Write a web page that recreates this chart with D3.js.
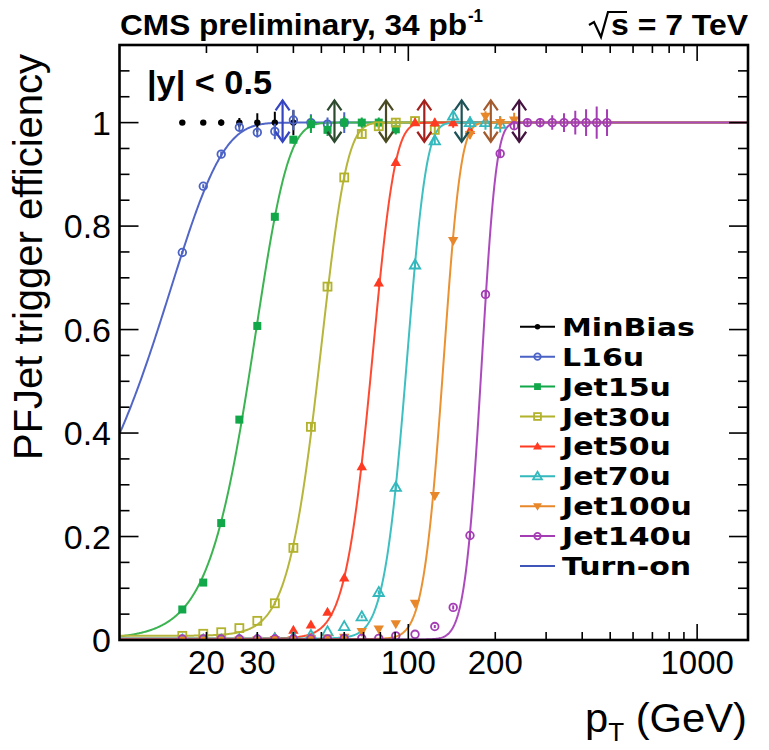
<!DOCTYPE html>
<html>
<head>
<meta charset="utf-8">
<script src="https://cdn.jsdelivr.net/npm/d3@7"></script>
<style>
  body { margin: 0; background: #fff; }
  svg { display: block; }
</style>
</head>
<body>
<svg id="chart" width="769" height="750"></svg>
<script>
// ---- data: trigger efficiency per jet pT bin, [pT (GeV), efficiency, stat. error]
const seriesNames = ["MinBias", "L16u", "Jet15u", "Jet30u", "Jet50u", "Jet70u", "Jet100u", "Jet140u"];

const effMinBias = [[16.5,1.0,0],[19.5,1.0,0.002],[22.5,1.0,0.006],[26,1.0,0.009],[30,1.0,0.018],[34.5,1.0,0.021],[40,1.0,0.024]];
const effL16u = [[16.5,0.749,0.003],[19.5,0.877,0.004],[22.5,0.939,0.005],[26,0.991,0.008],[30,0.981,0.01],[34.5,0.983,0.015],[40,1.005,0.02],[46,1.0,0.016],[52.5,0.997,0.013],[60,1.0,0.02]];
const effJet15u = [[16.5,0.059,0.004],[19.5,0.111,0.005],[22.5,0.226,0.006],[26,0.426,0.007],[30,0.607,0.008],[34.5,0.818,0.008],[40,0.967,0.008],[46,0.997,0.017],[52.5,0.986,0.012],[60,1.0,0.012],[69,1.0,0.01],[79,1.0,0.01],[90.5,0.987,0.01]];
const effJet30u = [[16.5,0.008,0],[19.5,0.012,0],[22.5,0.015,0],[26,0.023,0],[30,0.037,0],[34.5,0.071,0.004],[40,0.178,0.006],[46,0.412,0.008],[52.5,0.683,0.008],[60,0.894,0.007],[69,0.978,0.006],[79,0.993,0.008],[90.5,1.0,0.008],[105.5,1.003,0.008],[123.5,0.986,0.01]];
const effJet50u = [[16.5,0.001,0],[19.5,0.001,0],[22.5,0.001,0],[26,0.002,0],[30,0.003,0],[34.5,0.006,0],[40,0.019,0],[46,0.029,0],[52.5,0.054,0.003],[60,0.12,0.005],[69,0.335,0.007],[79,0.69,0.008],[90.5,0.923,0.007],[105.5,1.0,0.006],[123.5,1.0,0.008],[143,1.0,0.01],[163.5,0.985,0.012]];
const effJet70u = [[16.5,0.0,0],[19.5,0.0,0],[22.5,0.0,0],[26,0.001,0],[30,0.001,0],[34.5,0.002,0],[40,0.005,0],[46,0.009,0],[52.5,0.016,0],[60,0.026,0],[69,0.045,0.003],[79,0.092,0.004],[90.5,0.295,0.007],[105.5,0.725,0.008],[123.5,0.965,0.008],[143,1.013,0.01],[163.5,1.0,0.012],[185,1.0,0.014],[208,0.997,0.016]];
const effJet100u = [[16.5,0.0,0],[19.5,0.0,0],[22.5,0.0,0],[26,0.0,0],[30,0.0,0],[34.5,0.001,0],[40,0.001,0],[46,0.002,0],[52.5,0.003,0],[60,0.005,0],[69,0.016,0],[79,0.021,0],[90.5,0.031,0],[105.5,0.071,0.004],[123.5,0.279,0.007],[143,0.772,0.008],[163.5,0.977,0.008],[185,1.012,0.01],[208,1.0,0.012],[232.5,1.005,0.014]];
const effJet140u = [[16.5,0.002,0],[19.5,0.002,0],[22.5,0.002,0],[26,0.002,0],[30,0.002,0],[34.5,0.002,0],[40,0.002,0],[46,0.002,0],[52.5,0.002,0],[60,0.003,0],[69,0.003,0],[79,0.003,0],[90.5,0.008,0],[105.5,0.011,0],[123.5,0.026,0.003],[143,0.063,0.004],[163.5,0.202,0.006],[185,0.668,0.008],[208,0.94,0.008],[232.5,0.994,0.008],[258.5,1.0,0.008],[286,1.0,0.009],[315,1.0,0.014],[346,1.0,0.018],[378.5,1.0,0.023],[412.5,1.0,0.026],[449,1.0,0.031],[487.5,1.0,0.026]];

const seriesData = [effMinBias, effL16u, effJet15u, effJet30u, effJet50u, effJet70u, effJet100u, effJet140u];

// turn-on fit parameters, eff = c + (1-c) * 0.5 * (1 + erf((pT - mean) / width)), one per trigger L16u..Jet140u
const fitMean  = [11.8, 27.9, 48.5, 73.8, 97.6, 131, 178];
const fitWidth = [9.9, 10.3, 13.0, 16.5, 18.6, 22, 25];
const fitFloor = [0, 0, 0.008, 0.003, 0.003, 0.002, 0.001];

// pT where each trigger becomes fully efficient
const thresholdPt = [36.7, 55.5, 83.7, 113.6, 153, 193, 242];

const xTickLabels = [20, 30, 100, 200, 1000];
const yTickLabels = [0, 0.2, 0.4, 0.6, 0.8, 1];

// ---- styles
const markerColors = ["#000000", "#4a62c6", "#12a84a", "#b2b22c", "#ff3a22", "#33b8bd", "#e8872a", "#a43db4"];
const curveColors  = ["#5166c6", "#3cb452", "#b6b63c", "#ff4a32", "#3ebfc1", "#ea9132", "#ac4abd"];
const arrowColors  = ["#3545c2", "#2c4a2e", "#4a4a22", "#a3201c", "#1d5257", "#a35a2d", "#44123f"];
const markerShapes = ["dot", "ocircle", "fsquare", "osquare", "ftri", "otri", "fdtri", "ocircle"];

const svg = d3.select("#chart");
const L = 119.5, R = 748, T = 45, B = 640;

const x = d3.scaleLog().domain([10, 1500]).range([L, R]);
const y = d3.scaleLinear().domain([0, 1.15]).range([B, T]);

function erf(v) {
  const s = Math.sign(v); v = Math.abs(v);
  const t = 1 / (1 + 0.3275911 * v);
  const p = 1 - (((((1.061405429 * t - 1.453152027) * t) + 1.421413741) * t - 0.284496736) * t + 0.254829592) * t * Math.exp(-v * v);
  return s * p;
}

svg.append("defs").append("clipPath").attr("id", "plotclip")
  .append("rect").attr("x", L).attr("y", T).attr("width", R - L).attr("height", B - T);

// ---- fitted turn-on curves
const ptGrid = d3.range(0, 801).map(i => 10 * Math.pow(150, i / 800));
const curveLine = d3.line().x(d => x(d[0])).y(d => y(d[1]));
const curveG = svg.append("g").attr("clip-path", "url(#plotclip)");
fitMean.forEach((m, i) => {
  const c = fitFloor[i];
  const pts = ptGrid.map(p => [p, c + (1 - c) * 0.5 * (1 + erf((p - m) / fitWidth[i]))]);
  curveG.append("path").attr("d", curveLine(pts))
    .attr("fill", "none").attr("stroke", curveColors[i]).attr("stroke-width", 2);
});

// ---- markers
function drawMarker(g, shape, color, cx, cy, scale) {
  const k = scale || 1;
  if (shape === "dot") {
    g.append("circle").attr("cx", cx).attr("cy", cy).attr("r", 3.2 * k).attr("fill", color);
  } else if (shape === "ocircle") {
    g.append("circle").attr("cx", cx).attr("cy", cy).attr("r", 3.8 * k)
      .attr("fill", "none").attr("stroke", color).attr("stroke-width", 1.8);
  } else if (shape === "fsquare" || shape === "osquare") {
    const s = 8 * k;
    const r = g.append("rect").attr("x", cx - s / 2).attr("y", cy - s / 2).attr("width", s).attr("height", s);
    if (shape === "fsquare") r.attr("fill", color);
    else r.attr("fill", "none").attr("stroke", color).attr("stroke-width", 1.8);
  } else {
    const h = 9 * k, w = 5.2 * k;
    const up = shape !== "fdtri";
    const d = up
      ? `M${cx},${cy - h * 0.6}L${cx + w},${cy + h * 0.4}L${cx - w},${cy + h * 0.4}Z`
      : `M${cx},${cy + h * 0.6}L${cx + w},${cy - h * 0.4}L${cx - w},${cy - h * 0.4}Z`;
    const p = g.append("path").attr("d", d);
    if (shape === "otri") p.attr("fill", "none").attr("stroke", color).attr("stroke-width", 1.8);
    else p.attr("fill", color);
  }
}

const pointG = svg.append("g").attr("clip-path", "url(#plotclip)");
seriesData.forEach((data, si) => {
  const g = pointG.append("g");
  const col = markerColors[si];
  data.forEach(([pt, eff, err]) => {
    if (err > 0) {
      g.append("line").attr("x1", x(pt)).attr("x2", x(pt))
        .attr("y1", y(eff - err)).attr("y2", y(eff + err))
        .attr("stroke", col).attr("stroke-width", 2);
    }
    drawMarker(g, markerShapes[si], col, x(pt), y(eff));
  });
});

// ---- full-efficiency threshold arrows
const arrowG = svg.append("g");
thresholdPt.forEach((pt, i) => {
  const ax = x(pt), yTop = y(1.043), yBot = y(0.963);
  const col = arrowColors[i];
  arrowG.append("line").attr("x1", ax).attr("x2", ax).attr("y1", yTop).attr("y2", yBot)
    .attr("stroke", col).attr("stroke-width", 2.2);
  arrowG.append("path").attr("d", `M${ax - 7},${yTop + 10}L${ax},${yTop}L${ax + 7},${yTop + 10}`)
    .attr("fill", "none").attr("stroke", col).attr("stroke-width", 2.2);
  arrowG.append("path").attr("d", `M${ax - 7},${yBot - 10}L${ax},${yBot}L${ax + 7},${yBot - 10}`)
    .attr("fill", "none").attr("stroke", col).attr("stroke-width", 2.2);
});

// ---- axes: frame with inward ticks on all four sides
const axisG = svg.append("g").attr("stroke", "#000");
x.ticks().filter(t => t > 10 && t < 1500).forEach(t => {
  const major = Math.abs(Math.log10(t) - Math.round(Math.log10(t))) < 1e-9;
  const len = major ? 16 : 8;
  axisG.append("line").attr("x1", x(t)).attr("x2", x(t)).attr("y1", B).attr("y2", B - len).attr("stroke-width", 1.6);
  axisG.append("line").attr("x1", x(t)).attr("x2", x(t)).attr("y1", T).attr("y2", T + len).attr("stroke-width", 1.6);
});
d3.range(1, 23).forEach(i => {
  const v = i * 0.05;
  const len = i % 4 === 0 ? 19 : 10;
  axisG.append("line").attr("x1", L).attr("x2", L + len).attr("y1", y(v)).attr("y2", y(v)).attr("stroke-width", 1.6);
  axisG.append("line").attr("x1", R).attr("x2", R - len).attr("y1", y(v)).attr("y2", y(v)).attr("stroke-width", 1.6);
});
svg.append("rect").attr("x", L).attr("y", T).attr("width", R - L).attr("height", B - T)
  .attr("fill", "none").attr("stroke", "#000").attr("stroke-width", 2.6);

const labelFont = "'Liberation Sans', Arial, sans-serif";
svg.append("g").selectAll("text").data(yTickLabels).join("text")
  .attr("x", 111).attr("y", d => y(d) + 12)
  .attr("text-anchor", "end").attr("font-family", labelFont).attr("font-size", 34)
  .text(d => d3.format("~g")(d));
svg.append("g").selectAll("text").data(xTickLabels).join("text")
  .attr("x", d => x(d)).attr("y", 674)
  .attr("text-anchor", "middle").attr("font-family", labelFont).attr("font-size", 33)
  .text(d => d);

// axis titles
svg.append("text")
  .attr("transform", "translate(42,257) rotate(-90)")
  .attr("text-anchor", "middle").attr("font-family", labelFont).attr("font-size", 40)
  .text("PFJet trigger efficiency");

const xt = svg.append("text").attr("x", 585).attr("y", 732)
  .attr("font-family", labelFont).attr("font-size", 40)
  .attr("textLength", 162).attr("lengthAdjust", "spacingAndGlyphs");
xt.append("tspan").text("p");
xt.append("tspan").attr("dy", 9).attr("font-size", 25).text("T");
xt.append("tspan").attr("dy", -9).text(" (GeV)");

// header
const headFont = "'Liberation Sans Narrow', 'Liberation Sans', Arial, sans-serif";
svg.append("text").attr("x", 120).attr("y", 35)
  .attr("font-family", headFont).attr("font-weight", "bold").attr("font-size", 30)
  .attr("textLength", 347).attr("lengthAdjust", "spacingAndGlyphs")
  .text("CMS preliminary, 34 pb");
svg.append("text").attr("x", 468).attr("y", 22)
  .attr("font-family", headFont).attr("font-weight", "bold").attr("font-size", 18)
  .attr("textLength", 15).attr("lengthAdjust", "spacingAndGlyphs")
  .text("-1");
svg.append("path").attr("d", "M589,25L594,22L601,37L608,12L627,12")
  .attr("fill", "none").attr("stroke", "#000").attr("stroke-width", 2.2);
svg.append("text").attr("x", 611).attr("y", 35)
  .attr("font-family", headFont).attr("font-weight", "bold").attr("font-size", 30)
  .attr("textLength", 137).attr("lengthAdjust", "spacingAndGlyphs")
  .text("s = 7 TeV");

// rapidity bin label
svg.append("text").attr("x", 147).attr("y", 94)
  .attr("font-family", labelFont).attr("font-weight", "bold").attr("font-size", 33)
  .attr("textLength", 125).attr("lengthAdjust", "spacingAndGlyphs")
  .text("|y| < 0.5");

// ---- legend: rows are tightly packed, so the glyphs are set a bit smaller
// and stretched back to the full entry width
const legendEntries = seriesNames.map((n, i) => ({ name: n, color: markerColors[i], shape: markerShapes[i] }))
  .concat([{ name: "Turn-on", color: "#4055b8", shape: null }]);
const legG = svg.append("g");
legendEntries.forEach((e, i) => {
  const ly = 326.8 + i * 29.9;
  legG.append("line").attr("x1", 520).attr("x2", 555).attr("y1", ly).attr("y2", ly)
    .attr("stroke", e.color).attr("stroke-width", 2);
  if (e.shape) drawMarker(legG, e.shape, e.color, 537.5, ly, 0.85);
  const t = legG.append("text").attr("x", 562).attr("y", ly + 10)
    .attr("font-family", "'DejaVu Sans', sans-serif").attr("font-weight", "bold").attr("font-size", 30)
    .text(e.name);
  const fullWidth = t.node().getComputedTextLength();
  t.attr("font-size", 25.5).attr("y", ly + 9)
    .attr("textLength", fullWidth).attr("lengthAdjust", "spacingAndGlyphs");
});
</script>
</body>
</html>
